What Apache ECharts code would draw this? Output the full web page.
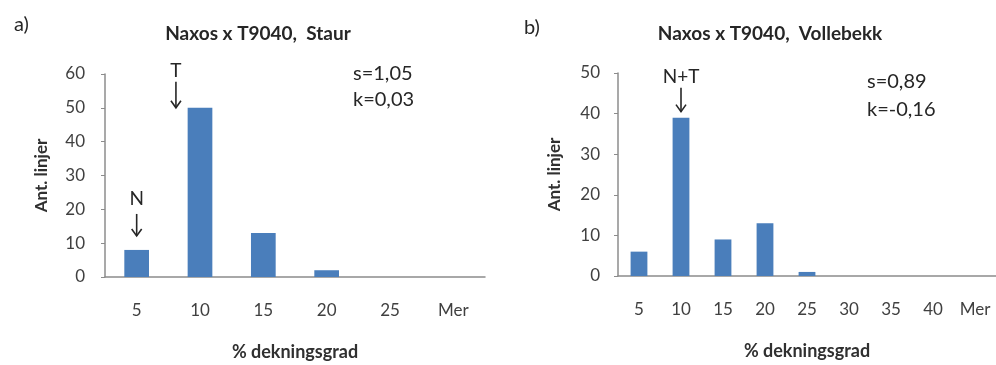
<!DOCTYPE html>
<html><head><meta charset="utf-8">
<script src="https://cdn.jsdelivr.net/npm/echarts@6/dist/echarts.min.js"></script>
<style>html,body{margin:0;padding:0;background:#fff}#c{width:996px;height:365px}</style>
</head><body><div id="c"></div>
<script>
const catsA = ['5','10','15','20','25','Mer'];
const valsA = [8, 50, 13, 2, 0, 0];
const catsB = ['5','10','15','20','25','30','35','40','Mer'];
const valsB = [6, 39, 9, 13, 1, 0, 0, 0, 0];
const titleA = 'Naxos x T9040,  Staur';
const titleB = 'Naxos x T9040,  Vollebekk';
const statsA = ['s=1,05', 'k=0,03'];
const statsB = ['s=0,89', 'k=-0,16'];
const yName = 'Ant. linjer';
const xName = '% dekningsgrad';

const FONT = 'Lato';
const TXT = '#404040';
const AX = '#8c8c8c';
const BAR = '#4a7ebb';

function xAxis(cats, gi) {
  return {
    type: 'category', gridIndex: gi, data: cats,
    axisLine: {lineStyle: {color: AX, width: 1.5}},
    axisTick: {show: false},
    axisLabel: {color: TXT, fontFamily: FONT, fontSize: 17, margin: 25},
    name: xName, nameLocation: 'middle', nameGap: 66,
    nameTextStyle: {color: '#303030', fontFamily: FONT, fontSize: 18, fontWeight: 'bold'}
  };
}
function yAxis(max, gi, margin) {
  return {
    type: 'value', gridIndex: gi, min: 0, max: max, interval: 10,
    axisLine: {show: true, lineStyle: {color: AX, width: 1.5}},
    axisTick: {show: true, length: 4, lineStyle: {color: AX}},
    splitLine: {show: false},
    axisLabel: {color: TXT, fontFamily: FONT, fontSize: 17, margin: margin},
    name: yName, nameLocation: 'middle', nameGap: 55, nameRotate: 90,
    nameTextStyle: {color: '#303030', fontFamily: FONT, fontSize: 17, fontWeight: 'bold'}
  };
}

const chart = echarts.init(document.getElementById('c'), null, {renderer: 'canvas'});
const tStyle = {color: '#262626', fontFamily: FONT, fontSize: 19, fontWeight: 'bold'};
const lStyle = {color: '#262626', fontFamily: FONT, fontSize: 20, fontWeight: 'normal'};
chart.setOption({
  animation: false,
  backgroundColor: '#fff',
  title: [
    {text: 'a)', left: 9, top: 10, textStyle: lStyle},
    {text: titleA, left: 253, top: 19, textAlign: 'center', textStyle: tStyle},
    {text: 'b)', left: 519, top: 13, textStyle: lStyle},
    {text: titleB, left: 765, top: 19, textAlign: 'center', textStyle: tStyle}
  ],
  grid: [
    {left: 105, top: 74, width: 380, height: 203, outerBoundsMode: 'none', containLabel: false},
    {left: 618, top: 73, width: 378, height: 203, outerBoundsMode: 'none', containLabel: false}
  ],
  xAxis: [xAxis(catsA, 0), xAxis(catsB, 1)],
  yAxis: [yAxis(60, 0, 20), yAxis(50, 1, 18)],
  series: [
    {type: 'bar', xAxisIndex: 0, yAxisIndex: 0, data: valsA, barWidth: '39%', itemStyle: {color: BAR}},
    {type: 'bar', xAxisIndex: 1, yAxisIndex: 1, data: valsB, barWidth: '40%', itemStyle: {color: BAR}}
  ]
});

function arrow(label, x, tipY, len, labelGap) {
  const headW = 5, headH = 7;
  return {
    type: 'group',
    children: [
      {type: 'text', x: x, y: tipY - len - labelGap, style: {text: label, fill: '#262626', font: '19px ' + FONT, align: 'center', verticalAlign: 'bottom'}},
      {type: 'line', shape: {x1: x, y1: tipY - len, x2: x, y2: tipY}, style: {stroke: '#262626', lineWidth: 1.6}},
      {type: 'polyline', shape: {points: [[x - headW, tipY - headH], [x, tipY], [x + headW, tipY - headH]]}, style: {stroke: '#262626', lineWidth: 1.6, fill: null}}
    ]
  };
}
const pA = (c, v) => chart.convertToPixel({xAxisIndex: 0, yAxisIndex: 0}, [c, v]);
const pB = (c, v) => chart.convertToPixel({xAxisIndex: 1, yAxisIndex: 1}, [c, v]);
const n5 = pA('5', valsA[0]);
const t10 = pA('10', valsA[1]);
const nt10 = pB('10', valsB[1]);
const statStyleA = {fill: '#262626', font: '20px ' + FONT, lineHeight: 26};
const statStyleB = {fill: '#262626', font: '20px ' + FONT, lineHeight: 28};
chart.setOption({
  graphic: [
    arrow('N', n5[0], n5[1] - 14, 22, 6),
    arrow('T', n5[0] + (t10[0] - n5[0]) * 0.62, t10[1], 26, 1),
    arrow('N+T', nt10[0], nt10[1] - 6, 24, 1),
    {type: 'text', x: 353, y: 61, style: Object.assign({text: statsA.join('\n')}, statStyleA)},
    {type: 'text', x: 867, y: 68, style: Object.assign({text: statsB.join('\n')}, statStyleB)}
  ]
});
</script></body></html>
